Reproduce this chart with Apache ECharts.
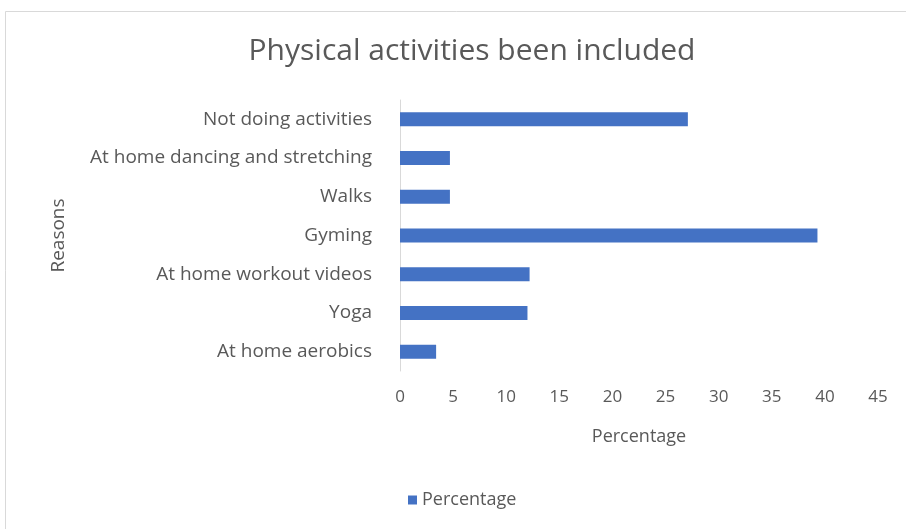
<!DOCTYPE html>
<html>
<head>
<meta charset="utf-8">
<script src="https://cdn.jsdelivr.net/npm/echarts@6/dist/echarts.min.js"></script>
<style>
  html, body { margin: 0; padding: 0; background: #ffffff; }
  #chart { width: 906px; height: 529px; }
</style>
</head>
<body>
<div id="chart"></div>
<script>
// Activities, listed top to bottom as they appear on the axis
const categories = [
  'Not doing activities',
  'At home dancing and stretching',
  'Walks',
  'Gyming',
  'At home workout videos',
  'Yoga',
  'At home aerobics'
];
const percentages = [27.1, 4.7, 4.7, 39.3, 12.2, 12.0, 3.4];
const xTicks = [0, 5, 10, 15, 20, 25, 30, 35, 40, 45];

const textColor = '#595959';
const fontFamily = '"Open Sans", sans-serif';

const chart = echarts.init(document.getElementById('chart'));
chart.setOption({
  animation: false,
  backgroundColor: '#ffffff',
  graphic: [{
    type: 'rect',
    shape: { x: 5.5, y: 11.5, width: 940, height: 560 },
    style: { fill: 'none', stroke: '#d9d9d9', lineWidth: 1 },
    silent: true,
    z: -1
  }],
  title: {
    text: 'Physical activities been included',
    left: 467,
    top: 31,
    textAlign: 'center',
    textStyle: { color: textColor, fontSize: 30, fontWeight: 'normal', fontFamily: fontFamily }
  },
  legend: {
    data: ['Percentage'],
    left: 403,
    top: 486,
    icon: 'rect',
    itemWidth: 9,
    itemHeight: 9,
    itemGap: 8,
    textStyle: { color: textColor, fontSize: 18, fontFamily: fontFamily }
  },
  grid: { left: 400, right: 28, top: 100, bottom: 158 },
  xAxis: {
    type: 'value',
    min: xTicks[0],
    max: xTicks[xTicks.length - 1],
    interval: 5,
    name: 'Percentage',
    nameLocation: 'middle',
    nameGap: 57,
    nameTextStyle: { color: textColor, fontSize: 18, fontFamily: fontFamily },
    axisLine: { show: false },
    axisTick: { show: false },
    splitLine: { show: false },
    axisLabel: { color: textColor, fontSize: 17, fontFamily: fontFamily, margin: 18 }
  },
  yAxis: {
    type: 'category',
    data: categories,
    inverse: true,
    name: 'Reasons',
    nameLocation: 'middle',
    nameGap: 332,
    nameRotate: 90,
    nameTextStyle: { color: textColor, fontSize: 19, fontFamily: fontFamily },
    axisLine: { show: true, lineStyle: { color: '#d9d9d9', width: 1 } },
    axisTick: { show: false },
    axisLabel: { color: textColor, fontSize: 19, fontFamily: fontFamily, margin: 28 }
  },
  series: [{
    name: 'Percentage',
    type: 'bar',
    data: percentages,
    barWidth: 14,
    itemStyle: { color: '#4472c4' }
  }]
});
</script>
</body>
</html>
